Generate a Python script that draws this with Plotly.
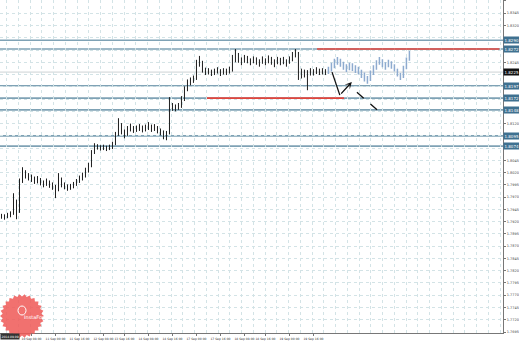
import math
import plotly.graph_objects as go

# ---------------- data ----------------
hist_close = [1.7931,1.7929,1.7933,1.7936,1.7962,1.7940,1.8005,1.8021,1.8015,1.8011,
              1.8009,1.8003,1.8006,1.8000,1.7997,1.8002,1.7996,1.7992,1.7984,1.8008,
              1.7997,1.7993,1.7989,1.7991,1.7995,1.8001,1.8009,1.8013,1.8024,1.8033,
              1.8062,1.8074,1.8072,1.8070,1.8073,1.8069,1.8071,1.8078,1.8098,1.8117,
              1.8105,1.8097,1.8109,1.8112,1.8107,1.8110,1.8113,1.8108,1.8111,1.8115,
              1.8110,1.8112,1.8106,1.8103,1.8097,1.8101,1.8150,1.8154,1.8152,1.8156,
              1.8170,1.8190,1.8204,1.8208,1.8212,1.8240,1.8246,1.8230,1.8225,1.8227,
              1.8223,1.8225,1.8229,1.8223,1.8227,1.8225,1.8229,1.8250,1.8262,1.8250,
              1.8246,1.8254,1.8250,1.8246,1.8250,1.8248,1.8243,1.8250,1.8246,1.8252,
              1.8248,1.8243,1.8250,1.8246,1.8248,1.8243,1.8250,1.8260,1.8264,1.8217,
              1.8225,1.8221,1.8223,1.8227,1.8225,1.8229,1.8225,1.8227,1.8225]
hist_high = [1.7936,1.7935,1.7938,1.7941,1.7978,1.7965,1.8008,1.8031,1.8025,1.8019,
             1.8016,1.8012,1.8013,1.8009,1.8004,1.8008,1.8004,1.8000,1.7995,1.8019,
             1.8010,1.8000,1.7996,1.7997,1.8001,1.8007,1.8014,1.8020,1.8030,1.8040,
             1.8066,1.8080,1.8078,1.8076,1.8077,1.8075,1.8077,1.8083,1.8103,1.8131,
             1.8121,1.8108,1.8115,1.8120,1.8115,1.8116,1.8119,1.8116,1.8118,1.8123,
             1.8118,1.8119,1.8115,1.8110,1.8106,1.8105,1.8174,1.8162,1.8159,1.8162,
             1.8176,1.8196,1.8210,1.8214,1.8218,1.8250,1.8258,1.8248,1.8234,1.8233,
             1.8230,1.8232,1.8235,1.8231,1.8233,1.8232,1.8236,1.8260,1.8272,1.8264,
             1.8255,1.8260,1.8258,1.8253,1.8257,1.8255,1.8251,1.8257,1.8253,1.8259,
             1.8256,1.8251,1.8256,1.8254,1.8256,1.8251,1.8257,1.8266,1.8272,1.8266,
             1.8232,1.8230,1.8229,1.8233,1.8231,1.8235,1.8232,1.8233,1.8231]
hist_low = [1.7926,1.7924,1.7927,1.7929,1.7934,1.7925,1.7938,1.7999,1.8008,1.8004,
            1.8001,1.7997,1.7998,1.7994,1.7990,1.7993,1.7989,1.7985,1.7968,1.7982,
            1.7990,1.7986,1.7983,1.7985,1.7988,1.7993,1.7999,1.8004,1.8010,1.8020,
            1.8031,1.8058,1.8067,1.8065,1.8066,1.8064,1.8066,1.8068,1.8076,1.8095,
            1.8098,1.8090,1.8095,1.8104,1.8101,1.8103,1.8105,1.8102,1.8104,1.8107,
            1.8103,1.8105,1.8100,1.8096,1.8088,1.8086,1.8098,1.8146,1.8145,1.8148,
            1.8152,1.8166,1.8186,1.8198,1.8203,1.8209,1.8236,1.8224,1.8219,1.8220,
            1.8217,1.8219,1.8222,1.8217,1.8220,1.8219,1.8222,1.8226,1.8245,1.8244,
            1.8239,1.8244,1.8243,1.8239,1.8243,1.8240,1.8236,1.8242,1.8239,1.8243,
            1.8240,1.8235,1.8241,1.8239,1.8241,1.8236,1.8242,1.8247,1.8255,1.8209,
            1.8212,1.8214,1.8188,1.8218,1.8218,1.8221,1.8219,1.8220,1.8219]
hist_first_open = 1.7929

fc_close = [1.8229,1.8237,1.8246,1.8250,1.8243,1.8237,1.8233,1.8237,1.8235,1.8231,
            1.8229,1.8221,1.8213,1.8209,1.8221,1.8233,1.8243,1.8250,1.8241,1.8237,
            1.8243,1.8239,1.8233,1.8223,1.8215,1.8233,1.8250,1.8264]
fc_high = [1.8236,1.8244,1.8252,1.8256,1.8252,1.8246,1.8241,1.8244,1.8243,1.8239,
           1.8236,1.8230,1.8224,1.8217,1.8228,1.8239,1.8249,1.8256,1.8251,1.8245,
           1.8250,1.8247,1.8241,1.8232,1.8223,1.8238,1.8255,1.8268]
fc_low = [1.8221,1.8226,1.8233,1.8240,1.8236,1.8230,1.8225,1.8229,1.8227,1.8223,
          1.8220,1.8213,1.8206,1.8201,1.8207,1.8219,1.8230,1.8240,1.8235,1.8230,
          1.8235,1.8232,1.8226,1.8216,1.8209,1.8213,1.8231,1.8248]

levels = [1.8290, 1.8272, 1.8197, 1.8172, 1.8148, 1.8095, 1.8074]
level_labels = ["1.8290", "1.8272", "1.8197", "1.8172", "1.8148", "1.8095", "1.8074"]
current_price = 1.8225
current_label = "1.8225"

red_levels = [1.8272, 1.8172]
red_start = [105.2, 68.5]
red_end = [166.0, 114.2]

arrow_solid_x = [110.2, 112.8, 116.8]
arrow_solid_y = [1.8225, 1.8178, 1.8205]
arrow_dash_x = [118.5, 125.2]
arrow_dash_y = [1.8184, 1.8148]

all_y_ticks = [round(1.7695 + 0.0025 * k, 4) for k in range(28)]

x_tick_idx = [10, 18, 26, 34, 41, 49, 57, 65, 73, 81, 88, 96, 104]
x_tick_text = ["10 Sep 08:00", "11 Sep 00:00", "11 Sep 16:00", "12 Sep 08:00",
               "13 Sep 16:00", "14 Sep 08:00", "14 Sep 16:00", "17 Sep 00:00",
               "17 Sep 16:00", "18 Sep 08:00", "18 Sep 16:00", "19 Sep 00:00",
               "19 Sep 16:00"]
start_stamp = "2014.09.09"

# ---------------- figure ----------------
# tick labels hidden behind the price boxes are not drawn (as in the reference)
boxed = levels + [current_price]
y_tick_text = [("%.4f" % v) if min(abs(v - b) for b in boxed) > 0.0011 else ""
               for v in all_y_ticks]

n_hist = len(hist_close)
hist_x = list(range(n_hist))
hist_open = [hist_first_open] + hist_close[:-1]
fc_x = list(range(n_hist, n_hist + len(fc_close)))
fc_open = [hist_close[-1]] + fc_close[:-1]

fig = go.Figure()

GRID = "#d3e3e6"
for lv in levels:
    fig.add_hline(y=lv, line=dict(color="#7fa2b5", width=1.6), layer="below")
fig.add_hline(y=current_price, line=dict(color="#cdd2d5", width=1), layer="below")
for lv, x0, x1 in zip(red_levels, red_start, red_end):
    fig.add_shape(type="line", x0=x0, x1=x1, y0=lv, y1=lv, xref="x", yref="y",
                  line=dict(color="#e2443b", width=1.6))

fig.add_trace(go.Ohlc(x=hist_x, open=hist_open, high=hist_high, low=hist_low, close=hist_close,
                      increasing=dict(line=dict(color="#1e1e1e", width=1)),
                      decreasing=dict(line=dict(color="#1e1e1e", width=1)),
                      tickwidth=0.05, showlegend=False, hoverinfo="skip"))
fig.add_trace(go.Ohlc(x=fc_x, open=fc_open, high=fc_high, low=fc_low, close=fc_close,
                      increasing=dict(line=dict(color="#8eabcf", width=1.5)),
                      decreasing=dict(line=dict(color="#8eabcf", width=1.5)),
                      tickwidth=0.05, showlegend=False, hoverinfo="skip"))

# arrows
fig.add_trace(go.Scatter(x=arrow_solid_x[:2], y=arrow_solid_y[:2], mode="lines",
                         line=dict(color="#111", width=1.3), showlegend=False, hoverinfo="skip"))
fig.add_annotation(x=arrow_solid_x[2], y=arrow_solid_y[2], ax=arrow_solid_x[1], ay=arrow_solid_y[1],
                   xref="x", yref="y", axref="x", ayref="y", text="", showarrow=True,
                   arrowhead=3, arrowsize=0.9, arrowwidth=1.3, arrowcolor="#111")
fig.add_trace(go.Scatter(x=arrow_dash_x, y=arrow_dash_y, mode="lines",
                         line=dict(color="#111", width=1.3, dash="dash"), showlegend=False, hoverinfo="skip"))
fig.add_annotation(x=arrow_dash_x[1], y=arrow_dash_y[1],
                   ax=arrow_dash_x[1] - 0.8, ay=arrow_dash_y[1] + 0.0004,
                   xref="x", yref="y", axref="x", ayref="y", text="", showarrow=True,
                   arrowhead=3, arrowsize=0.9, arrowwidth=1.3, arrowcolor="#111")

# level boxes on right axis
for lv, lab in zip(levels, level_labels):
    fig.add_annotation(x=1.0, y=lv, xref="paper", yref="y", text=lab, showarrow=False,
                       xanchor="left", yanchor="middle", bgcolor="#3f7190",
                       font=dict(size=4, color="white", family="DejaVu Sans"),
                       borderpad=0.5)
fig.add_annotation(x=1.0, y=current_price, xref="paper", yref="y", text=current_label,
                   showarrow=False, xanchor="left", yanchor="middle", bgcolor="#111",
                   font=dict(size=4, color="white", family="DejaVu Sans"), borderpad=0.5)

# time box at bottom left
fig.add_annotation(x=0, y=0, xref="paper", yref="paper", text=start_stamp,
                   showarrow=False, xanchor="left", yanchor="top", bgcolor="#333",
                   font=dict(size=3, color="white", family="DejaVu Sans"), borderpad=0.5)

# InstaForex logo (decorative starburst)
cx, cy = 22 / 503, (333 - 316) / 333
R, r_in, teeth = 22.0, 19.5, 26
pts = []
for k in range(teeth * 2):
    ang = math.pi * k / teeth
    rad = R if k % 2 == 0 else r_in
    pts.append((cx + rad * math.cos(ang) / 503, cy + rad * math.sin(ang) / 333))
path = "M " + " L ".join("%.5f,%.5f" % p for p in pts) + " Z"
fig.add_shape(type="path", path=path, xref="paper", yref="paper",
              fillcolor="rgba(238,88,86,0.85)", line=dict(width=0))
fig.add_annotation(x=cx, y=cy - 6 / 333, xref="paper", yref="paper", text="InstaForex",
                   showarrow=False, font=dict(size=5, color="white", family="DejaVu Sans"))
fig.add_shape(type="circle", xref="paper", yref="paper",
              x0=cx - 4 / 503, x1=cx + 4 / 503, y0=cy + 1 / 333, y1=cy + 10 / 333,
              line=dict(color="white", width=1))

fig.update_layout(
    width=519, height=342,
    margin=dict(l=0, r=16, t=0, b=9),
    paper_bgcolor="white", plot_bgcolor="white",
    showlegend=False,
    xaxis=dict(range=[-0.5, 167.2], rangeslider=dict(visible=False),
               tickmode="array", tickvals=x_tick_idx, ticktext=x_tick_text,
               tickangle=0,
               showgrid=False, zeroline=False,
               showline=True, linecolor="#777", linewidth=1, mirror=False,
               ticks="outside", ticklen=2, tickcolor="#777",
               tickfont=dict(size=3, color="#333", family="DejaVu Sans"),
               minor=dict(tickmode="linear", tick0=166.2, dtick=3.9167,
                          showgrid=True, gridcolor=GRID, griddash="dot", gridwidth=1)),
    yaxis=dict(range=[1.7693, 1.8372], side="right",
               tickmode="array", tickvals=all_y_ticks, ticktext=y_tick_text,
               showgrid=True, gridcolor=GRID, griddash="dot", gridwidth=1,
               zeroline=False, showline=True, linecolor="#777", linewidth=1,
               ticks="outside", ticklen=2, tickcolor="#777",
               tickfont=dict(size=3.5, color="#444", family="DejaVu Sans")),
)

fig.write_html("out.html")
